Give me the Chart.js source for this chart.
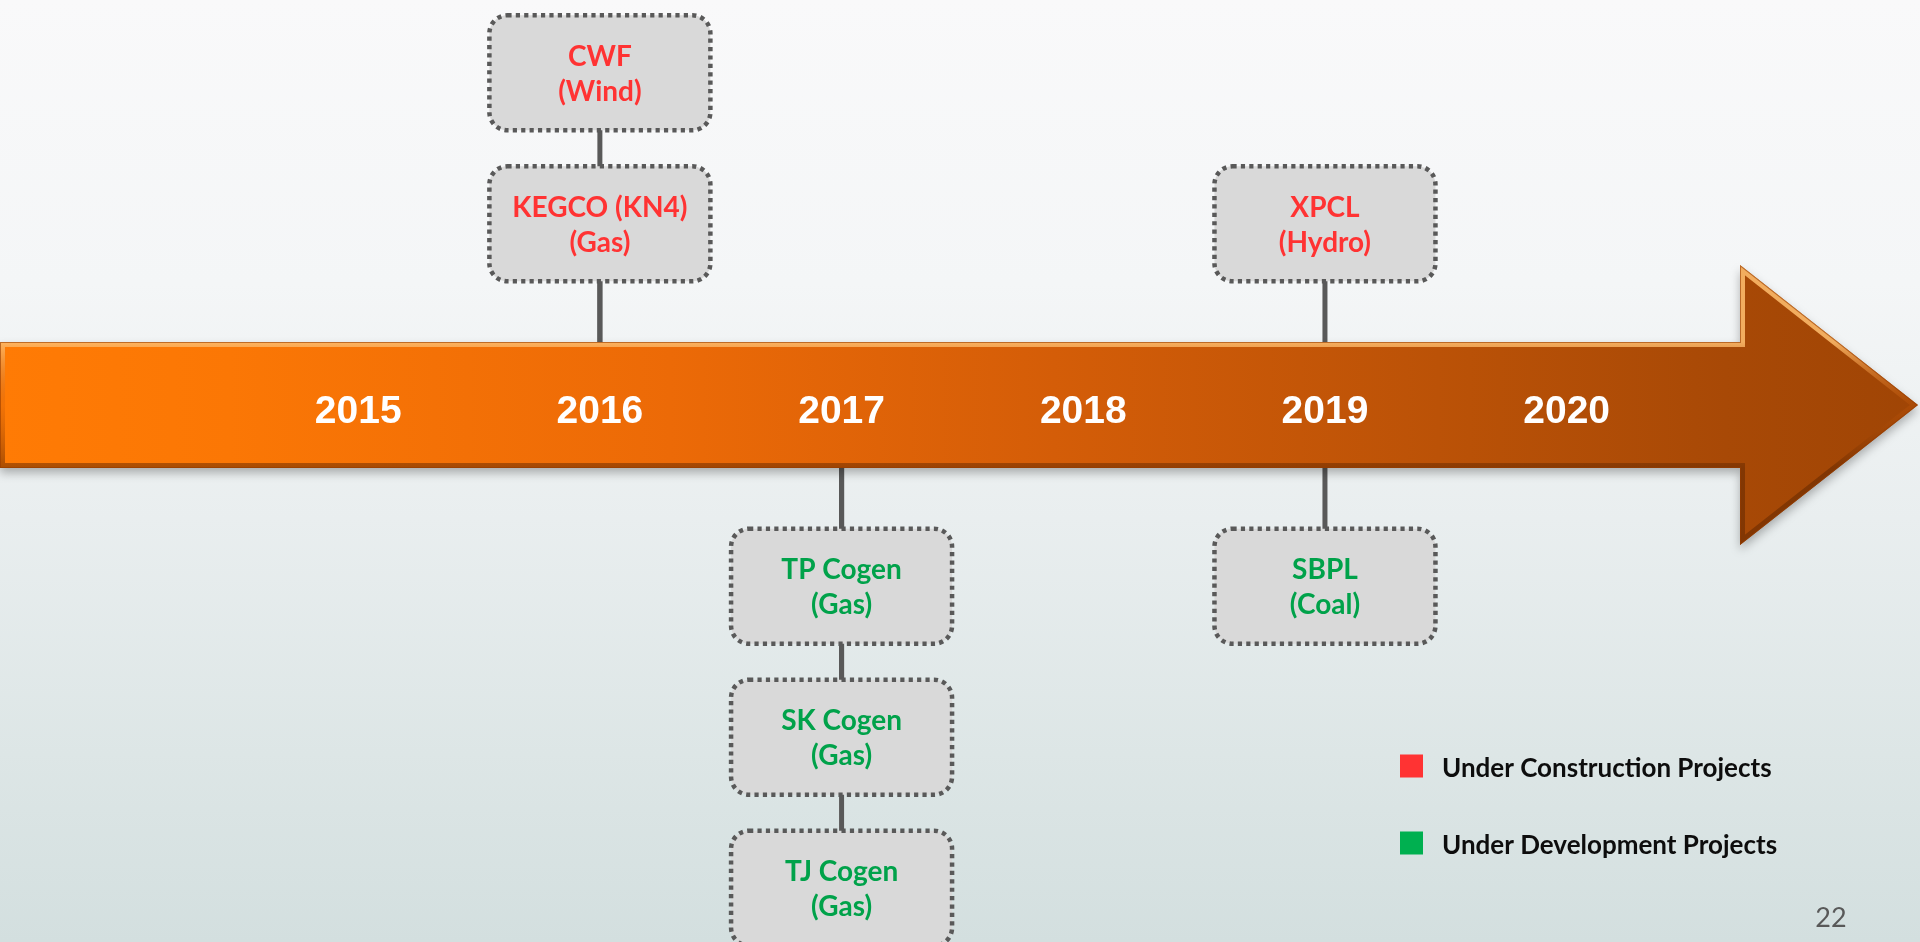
<!DOCTYPE html>
<html>
<head>
<meta charset="utf-8">
<title>Project timeline</title>
<script src="https://cdn.jsdelivr.net/npm/chart.js@4.4.1/dist/chart.umd.min.js"></script>
<style>
    html, body { margin: 0; padding: 0; overflow: hidden; }
    body {
        width: 1920px;
        height: 942px;
        background: linear-gradient(to bottom, #f9f9fa 0%, #f4f6f7 30%, #e9eeef 55%, #dde6e6 80%, #d3dfdf 100%);
    }
    #wrap { position: relative; width: 1920px; height: 942px; }
</style>
</head>
<body>
<div id="wrap"><canvas id="timeline"></canvas></div>
<script>
// Timeline years (x axis ticks)
const years = [2015, 2016, 2017, 2018, 2019, 2020];

// Under construction projects (levels above the arrow)
const constructionNames = ['CWF', 'KEGCO (KN4)', 'XPCL'];
const constructionFuels = ['Wind', 'Gas', 'Hydro'];
const constructionYears = [2016, 2016, 2019];
const constructionLevels = [2, 1, 1];

// Under development projects (levels below the arrow)
const developmentNames = ['TP Cogen', 'SK Cogen', 'TJ Cogen', 'SBPL'];
const developmentFuels = ['Gas', 'Gas', 'Gas', 'Coal'];
const developmentYears = [2017, 2017, 2017, 2019];
const developmentLevels = [-1, -2, -3, -1];

// Color palette
const colors = {
    construction: '#ff3333',
    development: '#00b050',
    developmentText: '#00a24a',
    box: '#d9d9d9',
    boxBorder: '#595959',
    connector: '#595959'
};

const LEVEL_GAP = 0.2;   // extra room between arrow and first box
const BOX_W = 221;
const BOX_H = 115;

function buildPoints(names, fuels, yrs, levels) {
    return names.map((name, i) => ({ x: yrs[i], y: levels[i], name: name, fuel: fuels[i] }));
}

function levelPixel(yScale, level) {
    return yScale.getPixelForValue(level + Math.sign(level) * LEVEL_GAP);
}

function drawArrow(chart) {
    const { ctx, chartArea, scales: { y } } = chart;
    const cy = y.getPixelForValue(0);
    const left = chartArea.left;
    const tip = chartArea.right - 2;
    const headX = tip - 178;
    const shaft = 63;
    const head = 140;

    const path = new Path2D();
    path.moveTo(left, cy - shaft);
    path.lineTo(headX, cy - shaft);
    path.lineTo(headX, cy - head);
    path.lineTo(tip, cy);
    path.lineTo(headX, cy + head);
    path.lineTo(headX, cy + shaft);
    path.lineTo(left, cy + shaft);
    path.closePath();

    const fill = ctx.createLinearGradient(left, 0, tip, 0);
    fill.addColorStop(0, '#ff7b05');
    fill.addColorStop(0.12, '#fb7705');
    fill.addColorStop(0.35, '#ec6a07');
    fill.addColorStop(0.55, '#d45d08');
    fill.addColorStop(0.75, '#bb5207');
    fill.addColorStop(0.9, '#a84906');
    fill.addColorStop(1, '#a04505');

    ctx.save();
    ctx.shadowColor = 'rgba(0,0,0,0.28)';
    ctx.shadowBlur = 10;
    ctx.shadowOffsetY = 5;
    ctx.fillStyle = fill;
    ctx.fill(path);
    ctx.restore();

    // bevel
    ctx.save();
    ctx.clip(path);
    const bevel = ctx.createLinearGradient(0, cy - shaft, 0, cy + shaft);
    bevel.addColorStop(0, 'rgba(255,190,110,0.85)');
    bevel.addColorStop(0.5, 'rgba(200,90,10,0.25)');
    bevel.addColorStop(1, 'rgba(100,40,0,0.55)');
    ctx.strokeStyle = bevel;
    ctx.lineWidth = 10;
    ctx.stroke(path);
    ctx.strokeStyle = 'rgba(150,60,0,0.6)';
    ctx.lineWidth = 2;
    ctx.stroke(path);
    ctx.restore();
}

function drawBox(ctx, cx, cy, point, textColor) {
    ctx.save();
    ctx.beginPath();
    ctx.roundRect(cx - BOX_W / 2, cy - BOX_H / 2, BOX_W, BOX_H, 18);
    ctx.fillStyle = colors.box;
    ctx.fill();
    ctx.setLineDash([4.2, 4.2]);
    ctx.lineWidth = 4.5;
    ctx.strokeStyle = colors.boxBorder;
    ctx.stroke();
    ctx.setLineDash([]);

    ctx.fillStyle = textColor;
    ctx.font = "bold 28px Lato, 'Open Sans', sans-serif";
    ctx.textAlign = 'center';
    ctx.textBaseline = 'middle';
    ctx.fillText(point.name, cx, cy - 16);
    ctx.fillText('(' + point.fuel + ')', cx, cy + 19);
    ctx.restore();
}

const timelinePlugin = {
    id: 'timeline',
    beforeDraw(chart) {
        const { ctx, scales: { x, y } } = chart;
        // connectors go behind the arrow and the boxes
        ctx.save();
        ctx.strokeStyle = colors.connector;
        ctx.lineWidth = 5;
        chart.data.datasets.forEach(ds => {
            ds.data.forEach(p => {
                const px = x.getPixelForValue(p.x);
                ctx.beginPath();
                ctx.moveTo(px, y.getPixelForValue(0));
                ctx.lineTo(px, levelPixel(y, p.y));
                ctx.stroke();
            });
        });
        ctx.restore();
        drawArrow(chart);
    },
    afterDatasetsDraw(chart) {
        const { ctx, scales: { x, y } } = chart;
        chart.data.datasets.forEach(ds => {
            ds.data.forEach(p => {
                drawBox(ctx, x.getPixelForValue(p.x), levelPixel(y, p.y), p, ds.textColor);
            });
        });

        // legend
        ctx.save();
        ctx.font = "bold 26px Lato, 'Open Sans', sans-serif";
        ctx.textAlign = 'left';
        ctx.textBaseline = 'middle';
        chart.data.datasets.forEach((ds, i) => {
            const cy = 766 + i * 77;
            ctx.fillStyle = ds.backgroundColor;
            ctx.fillRect(1400, cy - 11.5, 23, 23);
            ctx.fillStyle = '#0d0d0d';
            ctx.fillText(ds.label, 1442, cy + 3);
        });

        // slide number
        ctx.font = "27px Lato, 'Open Sans', sans-serif";
        ctx.fillStyle = '#595959';
        ctx.textAlign = 'center';
        ctx.fillText('22', 1831, 918);
        ctx.restore();
    }
};

const ctx = document.getElementById('timeline').getContext('2d');
new Chart(ctx, {
    type: 'scatter',
    data: {
        datasets: [
            {
                label: 'Under Construction Projects',
                data: buildPoints(constructionNames, constructionFuels, constructionYears, constructionLevels),
                backgroundColor: colors.construction,
                textColor: colors.construction,
                pointRadius: 0
            },
            {
                label: 'Under Development Projects',
                data: buildPoints(developmentNames, developmentFuels, developmentYears, developmentLevels),
                backgroundColor: colors.development,
                textColor: colors.developmentText,
                pointRadius: 0
            }
        ]
    },
    options: {
        responsive: true,
        maintainAspectRatio: false,
        animation: false,
        events: [],
        layout: { padding: 0 },
        plugins: {
            legend: { display: false },
            tooltip: { enabled: false }
        },
        scales: {
            x: {
                type: 'linear',
                min: 2013.518,
                max: 2021.462,
                position: { y: 0 },
                afterBuildTicks: axis => {
                    axis.ticks = years.map(v => ({ value: v }));
                },
                grid: { display: false },
                border: { display: false },
                ticks: {
                    color: '#ffffff',
                    padding: -24,
                    autoSkip: false,
                    maxRotation: 0,
                    font: {
                        family: "'Liberation Sans', Arial, sans-serif",
                        size: 39,
                        weight: 'bold'
                    },
                    callback: v => String(v)
                }
            },
            y: {
                type: 'linear',
                min: -3.556,
                max: 2.682,
                display: false
            }
        }
    },
    plugins: [timelinePlugin]
});
</script>
</body>
</html>
